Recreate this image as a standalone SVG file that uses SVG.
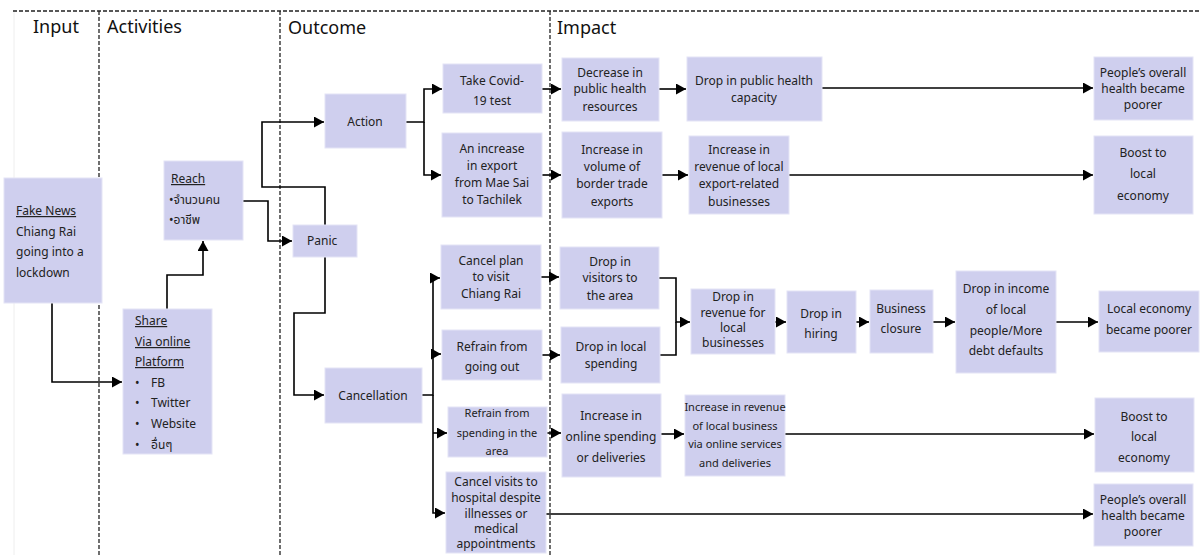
<svg xmlns="http://www.w3.org/2000/svg" width="1203" height="555" viewBox="0 0 1203 555">
<style>
.box{fill:#cfcfee;stroke:#e4e4f6;stroke-width:1}
.t{font-family:"Noto Sans","Noto Sans Thai","DejaVu Sans",sans-serif;font-size:12px;fill:#222;text-anchor:middle}
.l{text-anchor:start}
.s{font-size:11px}
.u{text-decoration:underline}
.h{font-family:"Noto Sans","Open Sans",sans-serif;font-size:18px;fill:#111}
.c{fill:none;stroke:#000;stroke-width:1.6}
.d{fill:none;stroke:#222;stroke-width:1.3;stroke-dasharray:4 2}
</style>
<defs>
<marker id="a" markerWidth="11" markerHeight="11" refX="10" refY="5.5" orient="auto" markerUnits="userSpaceOnUse"><path d="M0,0 L10,5.5 L0,11 z" fill="#000"/></marker>
</defs>
<rect width="1203" height="555" fill="#fff"/>
<g id="frame">
<line x1="14" y1="11" x2="14" y2="555" stroke="#eeeeee" stroke-width="1"/>
<line class="d" x1="13" y1="11" x2="1200" y2="11"/>
<line class="d" x1="99" y1="11" x2="99" y2="555"/>
<line class="d" x1="280" y1="11" x2="280" y2="555"/>
<line class="d" x1="550" y1="11" x2="550" y2="555"/>
<text class="h" x="33" y="33">Input</text>
<text class="h" x="107" y="33">Activities</text>
<text class="h" x="288" y="34">Outcome</text>
<text class="h" x="557" y="34">Impact</text>
</g>
<g id="connectors">
<path class="c" d="M52,303 V382 H122" marker-end="url(#a)"/>
<path class="c" d="M167,309 V275 H203 V241" marker-end="url(#a)"/>
<path class="c" d="M243,201 H268 V241 H292" marker-end="url(#a)"/>
<path class="c" d="M325,225 V187 H262 V122 H324" marker-end="url(#a)"/>
<path class="c" d="M325,257 V313 H294 V395 H324" marker-end="url(#a)"/>
<path class="c" d="M406,122 H424 V89 H442" marker-end="url(#a)"/>
<path class="c" d="M424,122 V175 H441" marker-end="url(#a)"/>
<path class="c" d="M422,395 H433 V278 H440" marker-end="url(#a)"/>
<path class="c" d="M433,354 H441" marker-end="url(#a)"/>
<path class="c" d="M433,395 V513 H445" marker-end="url(#a)"/>
<path class="c" d="M433,433 H447" marker-end="url(#a)"/>
<path class="c" d="M542,89 H561" marker-end="url(#a)"/>
<path class="c" d="M542,175 H561" marker-end="url(#a)"/>
<path class="c" d="M659,89 H686" marker-end="url(#a)"/>
<path class="c" d="M822,88 H1093" marker-end="url(#a)"/>
<path class="c" d="M662,175 H688" marker-end="url(#a)"/>
<path class="c" d="M789,175 H1093" marker-end="url(#a)"/>
<path class="c" d="M541,277 H559" marker-end="url(#a)"/>
<path class="c" d="M542,355 H560" marker-end="url(#a)"/>
<path class="c" d="M659,278 H676 V322 H690" marker-end="url(#a)"/>
<path class="c" d="M660,355 H676 V322"/>
<path class="c" d="M775,322 H786" marker-end="url(#a)"/>
<path class="c" d="M856,322 H869" marker-end="url(#a)"/>
<path class="c" d="M933,322 H955" marker-end="url(#a)"/>
<path class="c" d="M1056,322 H1098" marker-end="url(#a)"/>
<path class="c" d="M547,433 H561" marker-end="url(#a)"/>
<path class="c" d="M661,434 H684" marker-end="url(#a)"/>
<path class="c" d="M785,434 H1094" marker-end="url(#a)"/>
<path class="c" d="M546,514 H1093" marker-end="url(#a)"/>
</g>
<g id="fake-news">
<rect class="box" x="4" y="178" width="98" height="125"/>
<text class="t l" x="16"><tspan class="u" x="16" y="215">Fake News</tspan><tspan x="16" y="236">Chiang Rai</tspan><tspan x="16" y="256">going into a</tspan><tspan x="16" y="277">lockdown</tspan></text>
</g>
<g id="reach">
<rect class="box" x="164" y="161" width="79" height="79"/>
<text class="t l" x="171"><tspan class="u" x="171" y="183">Reach</tspan><tspan x="169" y="204">•จำนวนคน</tspan><tspan x="169" y="224">•อาชีพ</tspan></text>
</g>
<g id="share">
<rect class="box" x="123" y="309" width="89" height="145"/>
<text class="t l" x="135"><tspan class="u" x="135" y="325">Share</tspan><tspan class="u" x="135" y="346">Via online</tspan><tspan class="u" x="135" y="366">Platform</tspan></text>
<text class="t l"><tspan x="135" y="387">•</tspan><tspan x="135" y="407">•</tspan><tspan x="135" y="428">•</tspan><tspan x="135" y="449">•</tspan></text>
<text class="t l"><tspan x="151" y="387">FB</tspan><tspan x="151" y="407">Twitter</tspan><tspan x="151" y="428">Website</tspan><tspan x="151" y="449">อื่นๆ</tspan></text>
</g>
<g id="panic">
<rect class="box" x="293" y="225" width="64" height="32"/>
<text class="t l" x="307" y="245">Panic</text>
</g>
<g id="action">
<rect class="box" x="325" y="94" width="81" height="54"/>
<text class="t" x="365" y="126">Action</text>
</g>
<g id="cancellation">
<rect class="box" x="325" y="368" width="97" height="55"/>
<text class="t" x="373" y="400">Cancellation</text>
</g>
<g id="take-covid">
<rect class="box" x="443" y="64" width="99" height="49"/>
<text class="t"><tspan x="492" y="85">Take Covid-</tspan><tspan x="492" y="105">19 test</tspan></text>
</g>
<g id="increase-export">
<rect class="box" x="442" y="133" width="100" height="84"/>
<text class="t"><tspan x="492" y="153">An increase</tspan><tspan x="492" y="170">in export</tspan><tspan x="492" y="187">from Mae Sai</tspan><tspan x="492" y="204">to Tachilek</tspan></text>
</g>
<g id="cancel-plan">
<rect class="box" x="441" y="245" width="100" height="64"/>
<text class="t"><tspan x="491" y="265">Cancel plan</tspan><tspan x="491" y="281">to visit</tspan><tspan x="491" y="298">Chiang Rai</tspan></text>
</g>
<g id="refrain-going-out">
<rect class="box" x="442" y="330" width="100" height="50"/>
<text class="t"><tspan x="492" y="351">Refrain from</tspan><tspan x="492" y="371">going out</tspan></text>
</g>
<g id="refrain-spending">
<rect class="box" x="448" y="407" width="99" height="50"/>
<text class="t s"><tspan x="497" y="417">Refrain from</tspan><tspan x="497" y="437">spending in the</tspan><tspan x="497" y="455">area</tspan></text>
</g>
<g id="cancel-visits">
<rect class="box" x="446" y="472" width="100" height="81"/>
<text class="t"><tspan x="496" y="486">Cancel visits to</tspan><tspan x="496" y="502">hospital despite</tspan><tspan x="496" y="518">illnesses  or</tspan><tspan x="496" y="533">medical</tspan><tspan x="496" y="548">appointments</tspan></text>
</g>
<g id="decrease-resources">
<rect class="box" x="562" y="58" width="97" height="63"/>
<text class="t"><tspan x="610" y="77">Decrease in</tspan><tspan x="610" y="93">public health</tspan><tspan x="610" y="111">resources</tspan></text>
</g>
<g id="drop-capacity">
<rect class="box" x="687" y="57" width="135" height="64"/>
<text class="t"><tspan x="754" y="85">Drop in public health</tspan><tspan x="754" y="102">capacity</tspan></text>
</g>
<g id="increase-volume">
<rect class="box" x="562" y="132" width="100" height="86"/>
<text class="t"><tspan x="612" y="154">Increase in</tspan><tspan x="612" y="171">volume of</tspan><tspan x="612" y="188">border trade</tspan><tspan x="612" y="206">exports</tspan></text>
</g>
<g id="increase-revenue-export">
<rect class="box" x="689" y="136" width="100" height="78"/>
<text class="t"><tspan x="739" y="154">Increase in</tspan><tspan x="739" y="171">revenue of local</tspan><tspan x="739" y="188">export-related</tspan><tspan x="739" y="206">businesses</tspan></text>
</g>
<g id="health-poorer-1">
<rect class="box" x="1094" y="57" width="99" height="63"/>
<text class="t"><tspan x="1143" y="77">People’s overall</tspan><tspan x="1143" y="93">health became</tspan><tspan x="1143" y="109">poorer</tspan></text>
</g>
<g id="boost-1">
<rect class="box" x="1094" y="136" width="99" height="78"/>
<text class="t"><tspan x="1143" y="157">Boost to</tspan><tspan x="1143" y="178">local</tspan><tspan x="1143" y="200">economy</tspan></text>
</g>
<g id="drop-visitors">
<rect class="box" x="560" y="247" width="99" height="62"/>
<text class="t"><tspan x="610" y="266">Drop in</tspan><tspan x="610" y="282">visitors to</tspan><tspan x="610" y="300">the area</tspan></text>
</g>
<g id="drop-local-spending">
<rect class="box" x="561" y="327" width="99" height="56"/>
<text class="t"><tspan x="611" y="351">Drop in local</tspan><tspan x="611" y="368">spending</tspan></text>
</g>
<g id="drop-revenue">
<rect class="box" x="691" y="289" width="84" height="65"/>
<text class="t"><tspan x="733" y="301">Drop in</tspan><tspan x="733" y="317">revenue for</tspan><tspan x="733" y="332">local</tspan><tspan x="733" y="347">businesses</tspan></text>
</g>
<g id="drop-hiring">
<rect class="box" x="787" y="291" width="69" height="62"/>
<text class="t"><tspan x="821" y="318">Drop in</tspan><tspan x="821" y="338">hiring</tspan></text>
</g>
<g id="business-closure">
<rect class="box" x="870" y="290" width="63" height="63"/>
<text class="t"><tspan x="901" y="313">Business</tspan><tspan x="901" y="333">closure</tspan></text>
</g>
<g id="drop-income">
<rect class="box" x="956" y="271" width="100" height="102"/>
<text class="t"><tspan x="1006" y="293">Drop in  income</tspan><tspan x="1006" y="314">of local</tspan><tspan x="1006" y="335">people/More</tspan><tspan x="1006" y="355">debt defaults</tspan></text>
</g>
<g id="local-economy-poorer">
<rect class="box" x="1099" y="291" width="100" height="61"/>
<text class="t"><tspan x="1149" y="313">Local economy</tspan><tspan x="1149" y="334">became poorer</tspan></text>
</g>
<g id="increase-online">
<rect class="box" x="562" y="394" width="99" height="83"/>
<text class="t"><tspan x="611" y="420">Increase in</tspan><tspan x="611" y="441">online spending</tspan><tspan x="611" y="462">or deliveries</tspan></text>
</g>
<g id="increase-revenue-online">
<rect class="box" x="685" y="395" width="100" height="81"/>
<text class="t s"><tspan x="735" y="411">Increase in revenue</tspan><tspan x="735" y="430">of local business</tspan><tspan x="735" y="448">via online services</tspan><tspan x="735" y="467">and deliveries</tspan></text>
</g>
<g id="boost-2">
<rect class="box" x="1095" y="398" width="99" height="74"/>
<text class="t"><tspan x="1144" y="421">Boost to</tspan><tspan x="1144" y="441">local</tspan><tspan x="1144" y="462">economy</tspan></text>
</g>
<g id="health-poorer-2">
<rect class="box" x="1094" y="484" width="99" height="62"/>
<text class="t"><tspan x="1143" y="504">People’s overall</tspan><tspan x="1143" y="520">health became</tspan><tspan x="1143" y="536">poorer</tspan></text>
</g>
</svg>
